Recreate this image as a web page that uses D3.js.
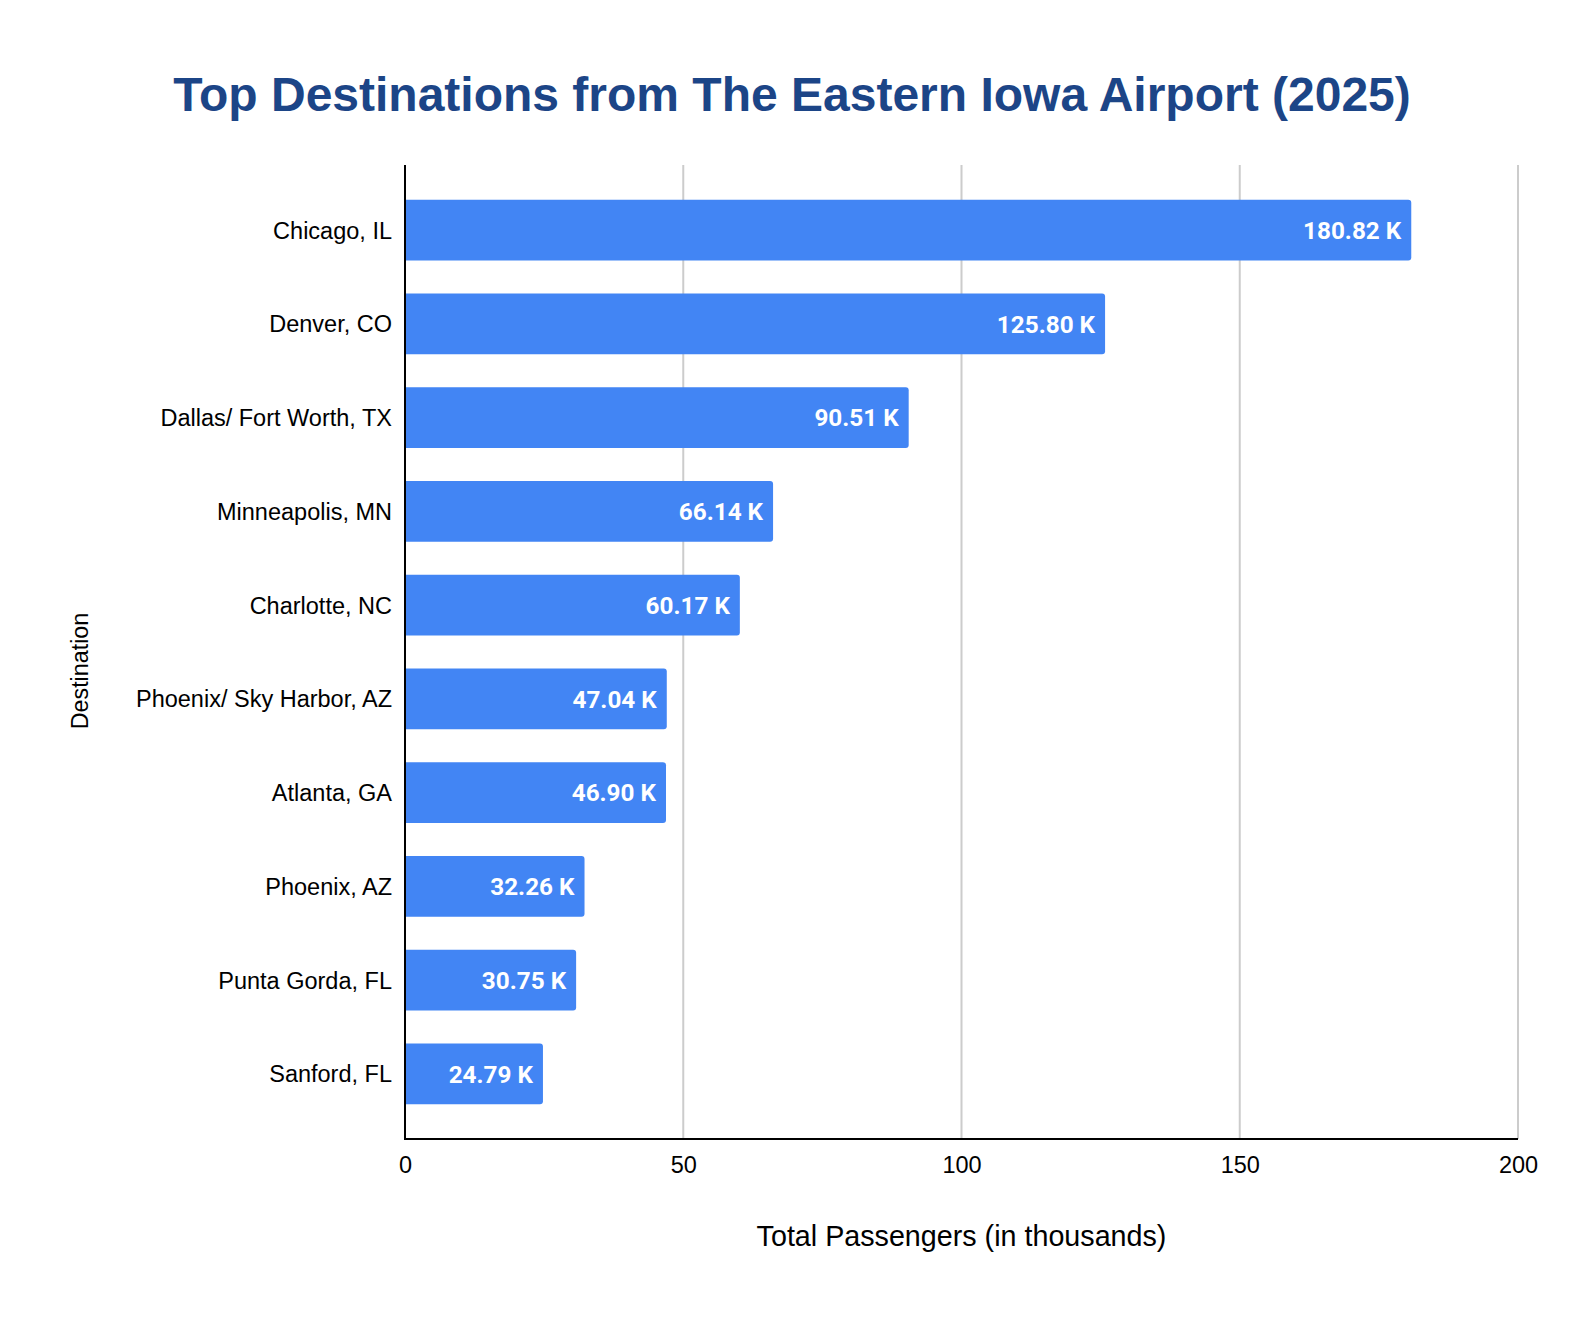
<!DOCTYPE html>
<html>
<head>
<meta charset="utf-8">
<script src="https://cdn.jsdelivr.net/npm/d3@7"></script>
<style>
  body { margin: 0; background: #fff; }
  #chart { width: 1584px; height: 1318px; }
  .cat text { font-family: "Liberation Sans", Arial, sans-serif; font-size: 23.5px; fill: #000; }
  .tick text { font-family: "Liberation Sans", Arial, sans-serif; font-size: 23.5px; fill: #000; }
</style>
</head>
<body>
<div id="chart"></div>
<script>
const destinations = ["Chicago, IL", "Denver, CO", "Dallas/ Fort Worth, TX", "Minneapolis, MN",
    "Charlotte, NC", "Phoenix/ Sky Harbor, AZ", "Atlanta, GA", "Phoenix, AZ", "Punta Gorda, FL", "Sanford, FL"];
const passengers = [180.82, 125.80, 90.51, 66.14, 60.17, 47.04, 46.90, 32.26, 30.75, 24.79];
const xTicks = [0, 50, 100, 150, 200];

const width = 1584;
const height = 1318;
const margin = {top: 165, left: 405, right: 66, bottom: 179};

const data = destinations.map(function(d, i) { return {dest: d, value: passengers[i]}; });

const svg = d3.select("#chart")
    .append("svg")
    .attr("width", width)
    .attr("height", height);

// Scales
const xScale = d3.scaleLinear()
    .domain([0, 200])
    .range([margin.left, width - margin.right]);

const yScale = d3.scaleBand()
    .domain(destinations)
    .range([margin.top, height - margin.bottom])
    .paddingInner(0.35)
    .paddingOuter(0.37);

// Gridlines
svg.append("g")
    .selectAll("line")
    .data(xTicks.filter(function(d) { return d > 0; }))
    .enter()
    .append("line")
        .attr("x1", function(d) { return xScale(d); })
        .attr("x2", function(d) { return xScale(d); })
        .attr("y1", margin.top)
        .attr("y2", height - margin.bottom)
        .attr("stroke", "#cccccc")
        .attr("stroke-width", 2);

// Bars (rounded right corners)
const r = 3;
svg.append("g")
    .selectAll("path")
    .data(data)
    .enter()
    .append("path")
        .attr("d", function(d) {
            const x0 = xScale(0), x1 = xScale(d.value);
            const y0 = yScale(d.dest), h = yScale.bandwidth();
            return `M${x0},${y0} H${x1 - r} Q${x1},${y0} ${x1},${y0 + r} V${y0 + h - r} Q${x1},${y0 + h} ${x1 - r},${y0 + h} H${x0} Z`;
        })
        .attr("fill", "#4285f4");

// Bar labels
svg.append("g")
    .selectAll("text")
    .data(data)
    .enter()
    .append("text")
        .attr("x", function(d) { return xScale(d.value) - 10; })
        .attr("y", function(d) { return yScale(d.dest) + yScale.bandwidth() / 2; })
        .attr("dy", "0.36em")
        .attr("text-anchor", "end")
        .attr("font-family", "Roboto, sans-serif")
        .attr("font-weight", "bold")
        .attr("font-size", 24.3)
        .attr("fill", "#ffffff")
        .text(function(d) { return d.value.toFixed(2) + " K"; });

// Axes
const yAxis = svg.append("g")
    .attr("class", "cat")
    .attr("transform", `translate(${margin.left},0)`)
    .call(d3.axisLeft(yScale).tickSize(0).tickPadding(13));
yAxis.select(".domain").remove();
yAxis.selectAll("text").attr("dy", "0.36em");

const xAxis = svg.append("g")
    .attr("transform", `translate(0,${height - margin.bottom})`)
    .call(d3.axisBottom(xScale).tickValues(xTicks).tickSize(0).tickPadding(17));
xAxis.select(".domain").remove();

svg.append("line")
    .attr("x1", margin.left).attr("x2", margin.left)
    .attr("y1", margin.top).attr("y2", height - margin.bottom + 1)
    .attr("stroke", "#000").attr("stroke-width", 2);

svg.append("line")
    .attr("x1", margin.left - 1).attr("x2", width - margin.right)
    .attr("y1", height - margin.bottom).attr("y2", height - margin.bottom)
    .attr("stroke", "#000").attr("stroke-width", 2);

// Axis titles
svg.append("text")
    .attr("x", (margin.left + width - margin.right) / 2)
    .attr("y", 1246)
    .attr("text-anchor", "middle")
    .attr("font-family", "Liberation Sans, Arial, sans-serif")
    .attr("font-size", 28.7)
    .text("Total Passengers (in thousands)");

svg.append("text")
    .attr("transform", "translate(88,671) rotate(-90)")
    .attr("text-anchor", "middle")
    .attr("font-family", "Liberation Sans, Arial, sans-serif")
    .attr("font-size", 23.3)
    .text("Destination");

// Title
svg.append("text")
    .attr("x", 792)
    .attr("y", 111)
    .attr("text-anchor", "middle")
    .attr("font-family", "Liberation Sans, Arial, sans-serif")
    .attr("font-weight", "bold")
    .attr("font-size", 48)
    .attr("fill", "#1c4587")
    .text("Top Destinations from The Eastern Iowa Airport (2025)");
</script>
</body>
</html>
